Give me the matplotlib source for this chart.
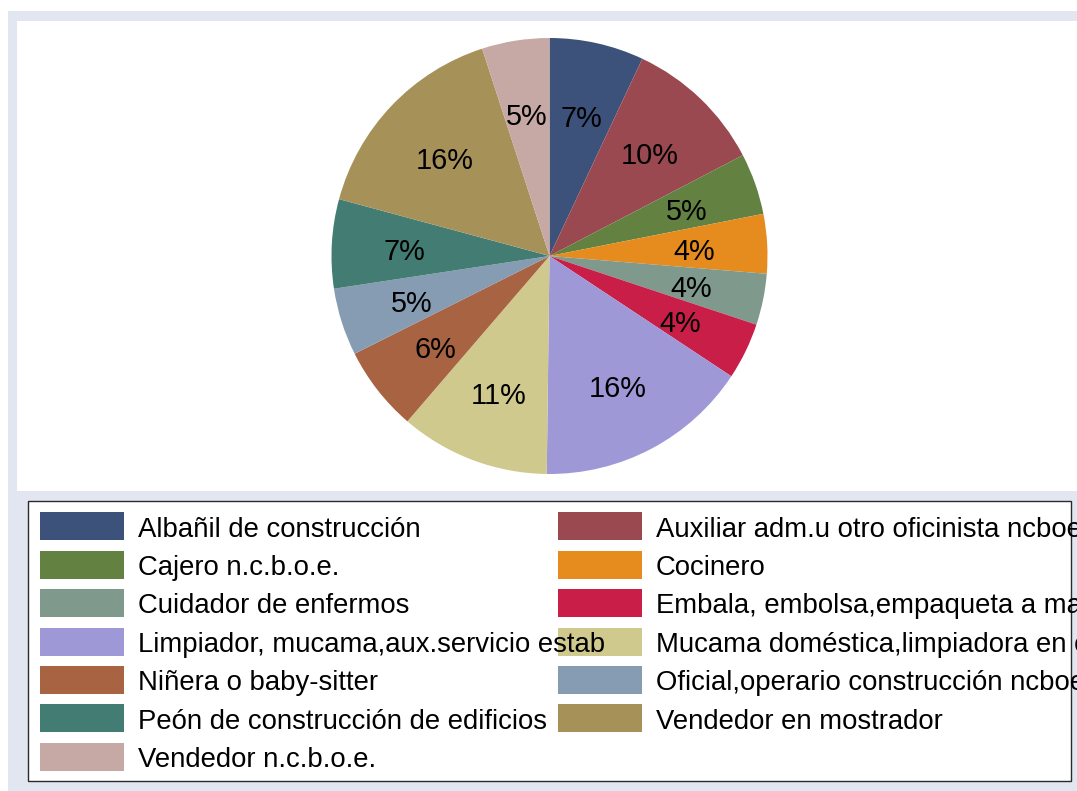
import matplotlib.pyplot as plt
from matplotlib.patches import Rectangle
from matplotlib.transforms import offset_copy

plt.rcParams["font.family"] = ["Liberation Sans", "DejaVu Sans"]

# ocupaciones y su participación (%)
ocupaciones = [
    "Albañil de construcción",
    "Auxiliar adm.u otro oficinista ncboe",
    "Cajero n.c.b.o.e.",
    "Cocinero",
    "Cuidador de enfermos",
    "Embala, embolsa,empaqueta a mano",
    "Limpiador, mucama,aux.servicio estab",
    "Mucama doméstica,limpiadora en casas",
    "Niñera o baby-sitter",
    "Oficial,operario construcción ncboe",
    "Peón de construcción de edificios",
    "Vendedor en mostrador",
    "Vendedor n.c.b.o.e.",
]
porcentajes = [7.0, 10.35, 4.55, 4.4, 3.8, 4.2, 15.9, 11.1, 6.3, 5.0, 6.6, 15.8, 5.0]
colores = [
    "#3d527a", "#9a4950", "#638242", "#e68c1e", "#7f998d", "#c81e48", "#9e98d6",
    "#cfc98d", "#a86343", "#869cb2", "#427c72", "#a69259", "#c6a9a5",
]

W, H = 1077, 791
fig = plt.figure(figsize=(W / 100, H / 100), dpi=100, facecolor="white")

# fondo (coordenadas en pixeles)
bg = fig.add_axes([0, 0, 1, 1])
bg.set_xlim(0, W)
bg.set_ylim(H, 0)
bg.axis("off")
bg.add_patch(Rectangle((8, 11), W, H, facecolor="#e2e6f0", edgecolor="none"))
bg.add_patch(Rectangle((17, 21), W, 491 - 21, facecolor="white", edgecolor="none"))
bg.add_patch(Rectangle((27.7, 501), 1071 - 27.7, 781 - 501, facecolor="white",
                       edgecolor="#2a2a2a", linewidth=1.0))

# leyenda en dos columnas
for i, (nombre, color) in enumerate(zip(ocupaciones, colores)):
    fila, col = divmod(i, 2)
    x0 = 39.5 if col == 0 else 557.7
    y0 = 512.3 + fila * 38.4
    bg.add_patch(Rectangle((x0, y0), 84, 28, facecolor=color, edgecolor="none", zorder=2))
    bg.text(x0 + 98, y0 + 24.4, nombre, fontsize=19.8, ha="left", va="baseline",
            color="black", zorder=3)

# torta
cx, cy, r = 549.5, 256, 218
ax = fig.add_axes([(cx - r) / W, (H - cy - r) / H, 2 * r / W, 2 * r / H])
_, _, etiquetas = ax.pie(
    porcentajes,
    colors=colores,
    startangle=90,
    counterclock=False,
    autopct=lambda p: f"{p:.0f}%",
    pctdistance=0.665,
    textprops={"fontsize": 20.8, "color": "black"},
    wedgeprops={"linewidth": 0},
)
ax.set_xlim(-1, 1)
ax.set_ylim(-1, 1)
ax.set_aspect("equal")
ax.axis("off")

# bajar un poco las etiquetas de porcentaje
desplazado = offset_copy(ax.transData, fig=fig, x=0, y=-4.5, units="dots")
for t in etiquetas:
    t.set_transform(desplazado)

fig.savefig("out.png", dpi=100)
